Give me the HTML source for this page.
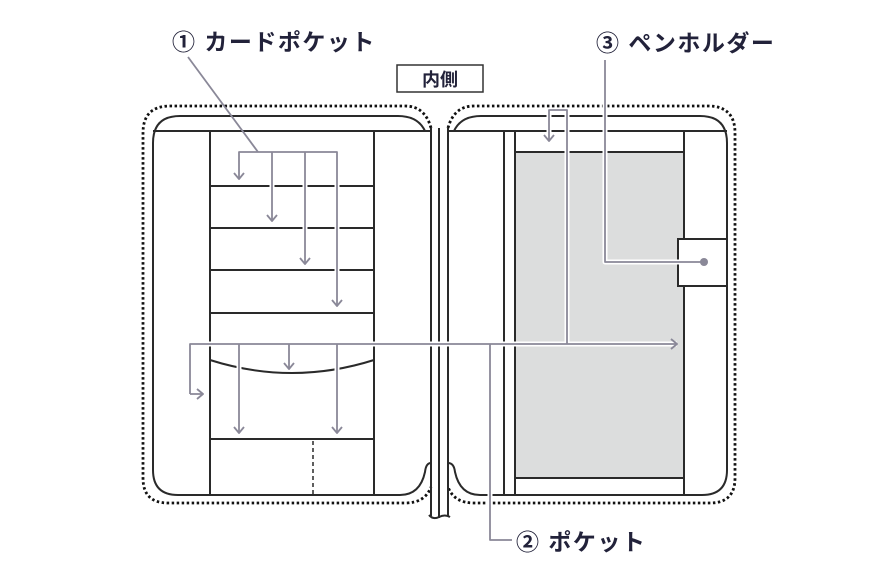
<!DOCTYPE html>
<html><head><meta charset="utf-8"><style>
html,body{margin:0;padding:0;background:#fff;width:880px;height:576px;overflow:hidden}
svg{display:block}
text{font-family:"Liberation Sans","Noto Sans CJK JP",sans-serif;font-weight:bold;fill:#22223a}
</style></head><body>
<svg width="880" height="576" viewBox="0 0 880 576" xmlns="http://www.w3.org/2000/svg">
<g fill="none" stroke="#111" stroke-width="2.8" stroke-dasharray="2.5 2.5">
<path d="M431 128 Q425 106 405 106 L170 106 Q143 106 143 133 L143 478 Q143 503 168 503 L405 503 Q425 503 431 487"/>
<path d="M448 128 Q454 106 474 106 L708 106 Q735 106 735 133 L735 478 Q735 503 710 503 L474 503 Q454 503 448 487"/>
</g>
<rect x="515" y="152" width="169" height="326" fill="#dcdddd"/>
<g fill="none" stroke="#2a2a2a" stroke-width="2">
<path d="M425 131 Q418 116 398 116 L180 116 Q153 116 153 143 L153 470 Q153 495 178 495 L400 495 Q420 495 425 472 Q426 463 431 463"/>
<path d="M153 131 L431 131"/>
<path d="M454 131 Q461 116 481 116 L700 116 Q727 116 727 143 L727 470 Q727 495 702 495 L480 495 Q460 495 455 472 Q454 463 448 463"/>
<path d="M448 131 L727 131"/>
<path d="M431 128 L431 516 M439 128 L439 518 M448 128 L448 516"/>
<path d="M429 515 Q433 520 439 517 Q445 514 450 517"/>
<path d="M210 131 V495 M374 131 V495"/>
<path d="M210 186 H374 M210 228 H374 M210 270 H374 M210 313 H374 M210 439 H374"/>
<path d="M210 360 Q292 386 374 360"/>
<path d="M504 131 V495 M515 131 V495 M684 131 V239 M684 286 V495"/>
<path d="M515 152 H684 M515 478 H684"/>
<rect x="678" y="239" width="49" height="47" fill="#fff"/>
<path d="M313 441 V495" stroke-dasharray="4 3" stroke-width="1.5"/>
</g>
<g fill="none" stroke="#fff" stroke-width="5" stroke-linejoin="round">
<path d="M239 178 V152 H337 V305 M272 152 V220 M305 152 V263"/>
<path d="M190 394 V344 H677 M239 344 V432 M289 344 V368 M337 344 V432 M190 394 H202"/>
<path d="M549 140 V110 H567 V344 M605 60 V262 H703"/>
<path d="M490 344 V540 H512"/>
</g>
<g fill="none" stroke="#8a8898" stroke-width="1.8" stroke-linejoin="round">
<path d="M188 57 L258 152"/>
<path d="M239 178 V152 H337 V305 M272 152 V220 M305 152 V263"/>
<path d="M234 173 L239 179 L244 173 M267 215 L272 221 L277 215 M300 258 L305 264 L310 258 M332 300 L337 306 L342 300"/>
<path d="M190 394 V344 H677 M239 344 V432 M289 344 V368 M337 344 V432 M190 394 H202"/>
<path d="M197 389 L203 394 L197 399 M671 339 L677 344 L671 349 M234 427 L239 433 L244 427 M284 363 L289 369 L294 363 M332 427 L337 433 L342 427"/>
<path d="M549 140 V110 H567 V344 M544 135 L549 141 L554 135"/>
<path d="M605 60 V262 H703"/>
<path d="M490 344 V540 H512"/>
</g>
<circle cx="704" cy="262" r="4" fill="#8a8898"/>
<rect x="397" y="65" width="86" height="27" fill="#fff" stroke="#333" stroke-width="1.5"/>
<text x="440" y="86" font-size="18" text-anchor="middle">内側</text>
<text x="172" y="50" font-size="23" letter-spacing="1.5">① カードポケット</text>
<text x="596" y="51" font-size="23" letter-spacing="1.5">③ ペンホルダー</text>
<text x="516" y="550" font-size="23" letter-spacing="1.5">② ポケット</text>
</svg>
</body></html>
